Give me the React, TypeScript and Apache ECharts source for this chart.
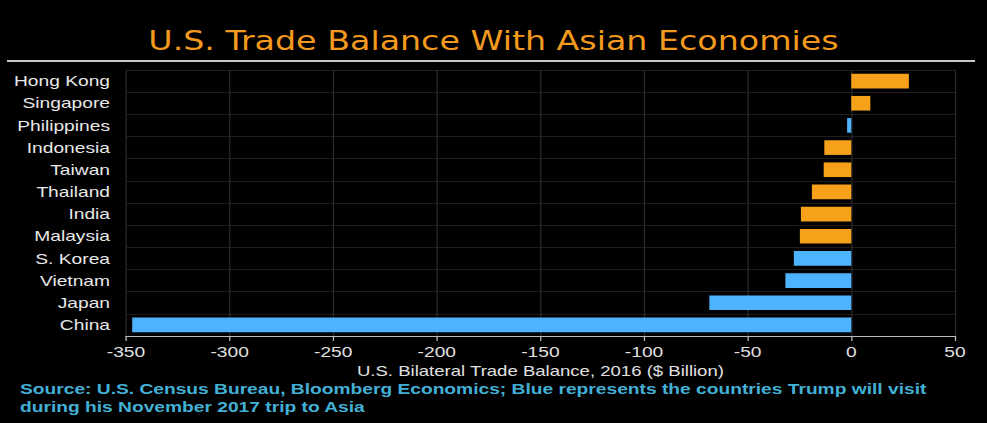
import React, { useEffect, useRef } from "react";
import * as echarts from "echarts";

const categories = ["China", "Japan", "Vietnam", "S. Korea", "Malaysia", "India", "Thailand", "Taiwan", "Indonesia", "Philippines", "Singapore", "Hong Kong"];
const values = [-347, -68.5, -31.8, -27.7, -24.8, -24.3, -19, -13.3, -13, -2, 9.2, 27.8];
const visited = [true, true, true, true, false, false, false, false, false, true, false, false];
const BLUE = "#4DB3FF";
const ORANGE = "#F7A11A";

// The reference is horizontally stretched; draw narrower and stretch with CSS.
const S = 1.28;
const W = 987 / S;
const px = (x: number) => x / S;

export default function App() {
  const ref = useRef<HTMLDivElement>(null);
  useEffect(() => {
    const chart = echarts.init(ref.current!, null, { renderer: "svg" });
    chart.setOption({
      animation: false,
      backgroundColor: "#000",
      title: {
        text: "U.S. Trade Balance With Asian Economies",
        left: "center",
        top: 23,
        textStyle: { color: "#F39A1E", fontFamily: "DejaVu Sans", fontWeight: "normal", fontSize: 26 },
      },
      graphic: [
        { type: "line", shape: { x1: px(7), y1: 61, x2: px(975), y2: 61 }, style: { stroke: "#c8c8c8", lineWidth: 2 } },
        {
          type: "text",
          left: px(20),
          top: 380,
          style: {
            text: "Source: U.S. Census Bureau, Bloomberg Economics; Blue represents the countries Trump will visit\nduring his November 2017 trip to Asia",
            fill: "#43B0D6",
            font: "bold 15px 'Liberation Sans'",
            lineHeight: 18,
          },
        },
      ],
      grid: { left: px(126), right: px(32), top: 70, bottom: 87 },
      xAxis: {
        type: "value",
        min: -350,
        max: 50,
        interval: 50,
        name: "U.S. Bilateral Trade Balance, 2016 ($ Billion)",
        nameLocation: "middle",
        nameGap: 27,
        nameTextStyle: { color: "#e0e0e0", fontFamily: "Liberation Sans", fontSize: 14.5 },
        axisLine: { show: true, onZero: false, lineStyle: { color: "#bbb" } },
        axisTick: { show: true, length: 5, lineStyle: { color: "#bbb" } },
        axisLabel: { color: "#e0e0e0", fontFamily: "Liberation Sans", fontSize: 15, margin: 8 },
        splitLine: { show: true, lineStyle: { color: "#2a2a2a" } },
      },
      yAxis: {
        type: "category",
        data: categories,
        axisLine: { show: false },
        axisTick: { show: false },
        axisLabel: { color: "#e8e8e8", fontFamily: "Liberation Sans", fontSize: 15, margin: px(16) },
        splitLine: { show: true, lineStyle: { color: "#1e1e1e" } },
      },
      series: [
        {
          type: "bar",
          barWidth: "66%",
          data: values.map((v, i) => ({ value: v, itemStyle: { color: visited[i] ? BLUE : ORANGE } })),
        },
      ],
    });
    return () => chart.dispose();
  }, []);
  return (
    <div style={{ position: "absolute", left: 0, top: 0, width: 987, height: 423, overflow: "hidden", background: "#000" }}>
      <div
        ref={ref}
        style={{ width: W, height: 423, transform: `scaleX(${S})`, transformOrigin: "0 0" }}
      />
    </div>
  );
}
